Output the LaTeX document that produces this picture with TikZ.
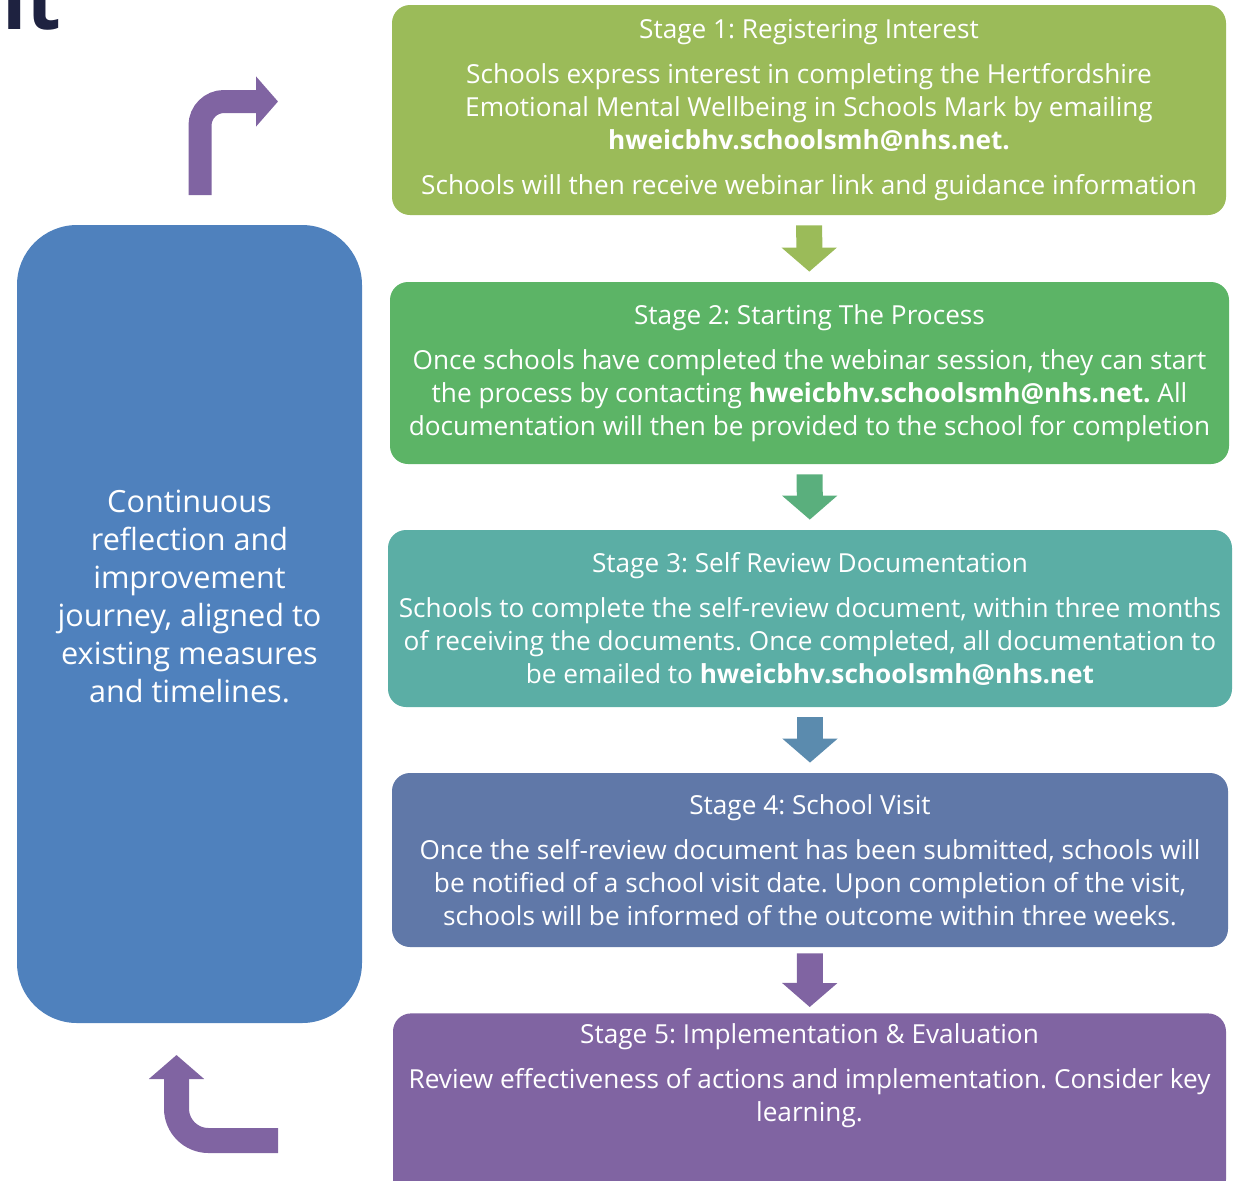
\documentclass[tikz,border=0pt]{standalone}
\usepackage{fontspec}
\setmainfont{Open Sans}
\frenchspacing
\usetikzlibrary{arrows.meta}
\definecolor{headnavy}{HTML}{1E2240}
\definecolor{stageone}{HTML}{9BBB59}
\definecolor{stagetwo}{HTML}{5CB466}
\definecolor{stagethree}{HTML}{5BAEA5}
\definecolor{stagefour}{HTML}{6078A8}
\definecolor{stagefive}{HTML}{8064A2}
\definecolor{cyclecol}{HTML}{4F81BD}
\definecolor{arrowtwo}{HTML}{5AAF7D}
\definecolor{arrowthree}{HTML}{5B8BAE}
\tikzset{
	stagebox/.style={rounded corners=9pt,text=white,align=center,inner sep=0pt,minimum height=#1,font=\fontsize{13.1}{16.5}\selectfont},
	blockarrow/.style={line width=13pt,-{Triangle[width=27pt,length=12pt]},shorten >=5pt,shorten <=5pt},
	turnarrow/.style={stagefive,line cap=butt}
}
\begin{document}
\begin{tikzpicture}[x=.5pt,y=-.5pt]
	\useasboundingbox (0,0) rectangle (1243,1180);
	\node[anchor=base west,inner sep=0pt,text=headnavy,font=\fontsize{40}{40}\selectfont\bfseries] (heading) at (2,29) {it};
	\node[stagebox=105pt,minimum width=417pt,fill=stageone] (s1) at (809,110) {Stage 1: Registering Interest\\[6pt]
		Schools express interest in completing the Hertfordshire\\ Emotional Mental Wellbeing in Schools Mark by emailing\\ \textbf{hweicbhv.schoolsmh@nhs.net.}\\[6pt]
		Schools will then receive webinar link and guidance information};
	\node[stagebox=91pt,minimum width=419.5pt,fill=stagetwo] (s2) at (809.5,373) {Stage 2: Starting The Process\\[6pt]
		Once schools have completed the webinar session, they can start\\ the process by contacting \textbf{hweicbhv.schoolsmh@nhs.net.} All\\ documentation will then be provided to the school for completion};
	\node[stagebox=88.5pt,minimum width=422pt,fill=stagethree] (s3) at (810,618.5) {Stage 3: Self Review Documentation\\[6pt]
		Schools to complete the self-review document, within three months\\ of receiving the documents. Once completed, all documentation to\\ be emailed to \textbf{hweicbhv.schoolsmh@nhs.net}};
	\node[stagebox=87pt,minimum width=418pt,fill=stagefour] (s4) at (810,860) {Stage 4: School Visit\\[6pt]
		Once the self-review document has been submitted, schools will\\ be notified of a school visit date. Upon completion of the visit,\\ schools will be informed of the outcome within three weeks.};
	\node[stagebox=92pt,minimum width=416.5pt,fill=stagefive,anchor=north] (s5) at (809.5,1013) {Stage 5: Implementation \& Evaluation\\[6pt]
		Review effectiveness of actions and implementation. Consider key\\ learning.\\[16pt]\mbox{}};
	\node[fill=cyclecol,rounded corners=30pt,minimum width=172.5pt,minimum height=399pt,text=white,align=center,inner sep=0pt,font=\fontsize{15.3}{19}\selectfont] (cycle) at (189.5,624) {Continuous\\ reflection and\\ improvement\\ journey, aligned to\\ existing measures\\ and timelines.\\[9pt]\mbox{}};
	\draw[blockarrow,stageone] (s1) -- (s2);
	\draw[blockarrow,arrowtwo] (s2) -- (s3);
	\draw[blockarrow,arrowthree] (s3) -- (s4);
	\draw[blockarrow,stagefive,shorten >=3pt,shorten <=3pt] (s4) -- (s5);
	\coordinate (upstart) at (200,195);
	\coordinate (uptip) at (278,101.5);
	\coordinate (backstart) at (278,1140.5);
	\coordinate (backtip) at (176.5,1055);
	\draw[turnarrow,line width=11.5pt,rounded corners=12pt,-{Triangle[width=24.5pt,length=11pt]}] (upstart) |- (uptip);
	\draw[turnarrow,line width=12.5pt,rounded corners=16pt,-{Triangle[width=27pt,length=12pt]}] (backstart) -| (backtip);
\end{tikzpicture}
\end{document}
